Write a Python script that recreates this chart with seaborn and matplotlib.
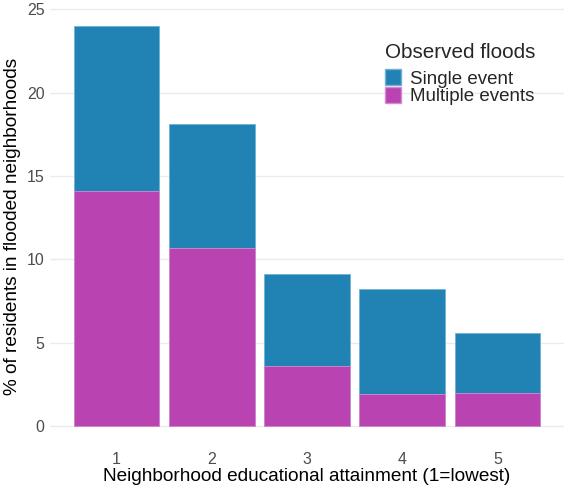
import pandas as pd
import seaborn as sns
import matplotlib.pyplot as plt
from matplotlib.patches import Patch

# valores
nivel = ["1", "2", "3", "4", "5"]
multiple = [14.1, 10.7, 3.6, 1.9, 2.0]
single = [9.9, 7.4, 5.5, 6.3, 3.6]

df = pd.DataFrame({"nivel": nivel, "multiple": multiple, "single": single})
df["total"] = df["multiple"] + df["single"]

azul = "#2083b4"
magenta = "#b843b1"

sns.set_theme(style="whitegrid")
plt.rcParams["font.family"] = ["Liberation Sans", "DejaVu Sans"]

fig = plt.figure(figsize=(5.7, 4.94), dpi=100)
ax = fig.add_axes([50 / 570, 48 / 494, 514 / 570, 440 / 494])

# barras apiladas: total en azul, multiples encima en magenta
sns.barplot(data=df, x="nivel", y="total", color=azul, width=0.9,
            saturation=1, edgecolor="#6fb2d6", linewidth=0.6, ax=ax)
sns.barplot(data=df, x="nivel", y="multiple", color=magenta, width=0.9,
            saturation=1, edgecolor="#d68bd1", linewidth=0.6, ax=ax)

ax.set_xlim(-0.7, 4.7)
ax.set_ylim(-1.2, 25.2)
ax.set_yticks([0, 5, 10, 15, 20, 25])
ax.grid(axis="x", visible=False)
ax.grid(axis="y", color="#ebebeb", linewidth=1)
ax.set_axisbelow(True)
for s in ax.spines.values():
    s.set_visible(False)

ax.tick_params(axis="both", length=0, labelsize=11.5, labelcolor="#4d4d4d")
ax.tick_params(axis="x", pad=4)
ax.tick_params(axis="y", pad=4)
ax.set_xlabel("Neighborhood educational attainment (1=lowest)", fontsize=13.7, color="black", labelpad=1)
ax.set_ylabel("% of residents in flooded neighborhoods", fontsize=13.7, color="black", labelpad=4)

handles = [Patch(facecolor=azul, edgecolor="#6fb2d6", label="Single event"),
           Patch(facecolor=magenta, edgecolor="#d68bd1", label="Multiple events")]
leg = ax.legend(handles=handles, title="Observed floods", loc="upper left",
                bbox_to_anchor=(322 / 514, 0.945), frameon=False,
                fontsize=13.5, title_fontsize=14.9, handlelength=0.85, handleheight=0.95,
                handletextpad=0.45, labelspacing=-0.05, borderpad=0.2)
leg._legend_box.align = "left"
leg._legend_box.sep = 5

fig.savefig("out.png", dpi=100)
